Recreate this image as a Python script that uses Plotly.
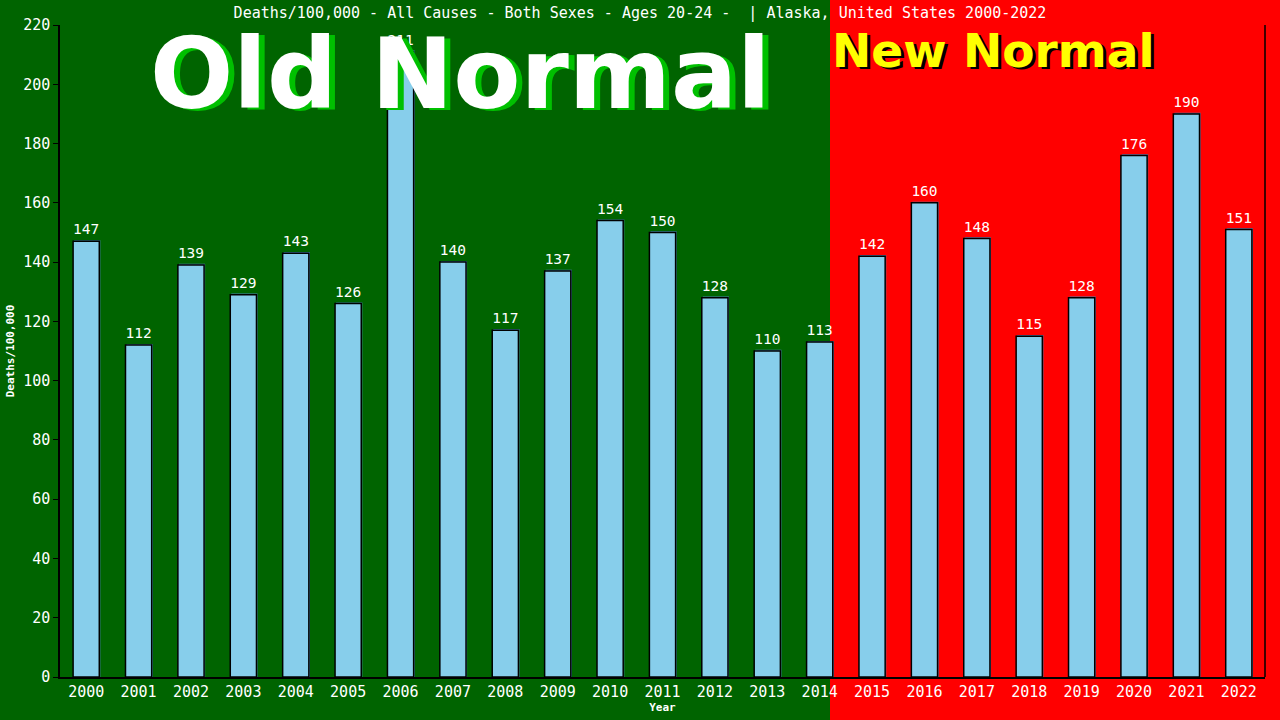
import plotly.graph_objects as go

years = [str(y) for y in range(2000, 2023)]
deaths = [147, 112, 139, 129, 143, 126, 211, 140, 117, 137, 154, 150, 128, 110, 113,
          142, 160, 148, 115, 128, 176, 190, 151]
title_text = "Deaths/100,000 - All Causes - Both Sexes - Ages 20-24 -  | Alaska, United States 2000-2022"
y_ticks = list(range(0, 221, 20))

mono = "DejaVu Sans Mono"

fig = go.Figure()
# shadow bars
fig.add_trace(go.Bar(x=years, y=[v + 0.4 for v in deaths], width=0.5, offset=-0.23,
                     marker=dict(color="#4682B4", line=dict(width=0)),
                     hoverinfo="skip", showlegend=False))
fig.add_trace(go.Bar(x=years, y=deaths, width=0.5, offset=-0.25,
                     marker=dict(color="#87CEEB", line=dict(color="black", width=1.5)),
                     text=[str(v) for v in deaths], textposition="outside",
                     textfont=dict(family=mono, size=15, color="white"),
                     cliponaxis=False, showlegend=False))

fig.update_layout(
    width=1280, height=720,
    barmode="overlay",
    paper_bgcolor="#006400", plot_bgcolor="rgba(0,0,0,0)",
    margin=dict(l=60, r=15, t=25, b=43),
    showlegend=False,
    title=dict(text=title_text, x=0.5, xanchor="center", y=0.982, yanchor="middle",
               font=dict(family=mono, size=15, color="white")),
    xaxis=dict(type="category", range=[-0.5, 22.5], showgrid=False, zeroline=False,
               showline=True, linecolor="black", linewidth=1.5, mirror=False,
               automargin=False,
               ticks="", tickfont=dict(family=mono, size=15, color="white"),
               title=dict(text="<b>Year</b>", font=dict(family=mono, size=11, color="white"),
                          standoff=4)),
    yaxis=dict(range=[0, 220], tickvals=y_ticks, showgrid=False, zeroline=False,
               showline=True, linecolor="black", linewidth=1.5, automargin=False,
               ticks="outside", ticklen=5, tickcolor="black",
               tickfont=dict(family=mono, size=15, color="white"),
               title=dict(text="<b>Deaths/100,000</b>", font=dict(family=mono, size=11, color="white"),
                          standoff=6)),
    shapes=[
        dict(type="rect", xref="paper", yref="paper", x0=(830 - 60) / 1205, x1=1.05,
             y0=-0.2, y1=1.2, fillcolor="#FF0000", line=dict(width=0), layer="below"),
        dict(type="line", xref="paper", yref="paper", x0=1, x1=1, y0=0, y1=1,
             line=dict(color="black", width=1.5)),
    ],
    annotations=[
        dict(text="<b>Old Normal</b>", xref="paper", yref="paper",
             x=(466 - 60) / 1205, y=(677 - 76) / 652, xanchor="center", yanchor="middle",
             showarrow=False, font=dict(family="DejaVu Sans", size=98, color="#00C000")),
        dict(text="<b>Old Normal</b>", xref="paper", yref="paper",
             x=(460 - 60) / 1205, y=(677 - 74) / 652, xanchor="center", yanchor="middle",
             showarrow=False, font=dict(family="DejaVu Sans", size=98, color="white")),
        dict(text="<b>New Normal</b>", xref="paper", yref="paper",
             x=(996 - 60) / 1205, y=(677 - 53) / 652, xanchor="center", yanchor="middle",
             showarrow=False, font=dict(family="DejaVu Sans", size=47, color="black")),
        dict(text="<b>New Normal</b>", xref="paper", yref="paper",
             x=(993 - 60) / 1205, y=(677 - 50) / 652, xanchor="center", yanchor="middle",
             showarrow=False, font=dict(family="DejaVu Sans", size=47, color="#FFFF00")),
    ],
)

fig.write_html("out.html", config={"displayModeBar": False},
               post_script="document.body.style.margin='0';document.body.style.overflow='hidden';")
